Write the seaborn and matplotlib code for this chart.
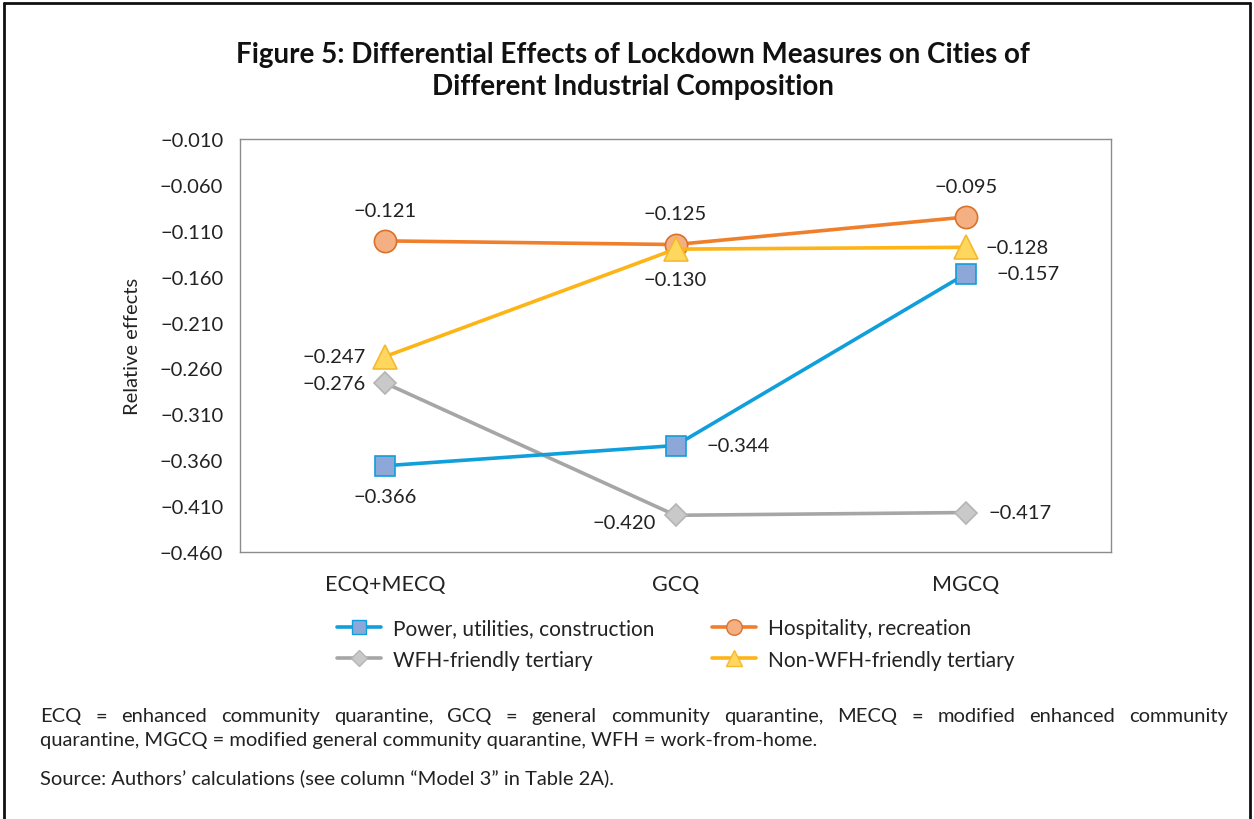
import numpy as np
import pandas as pd
import seaborn as sns
import matplotlib.pyplot as plt
from matplotlib.lines import Line2D

# data
phases = ['ECQ+MECQ', 'GCQ', 'MGCQ']
power = [-0.366, -0.344, -0.157]
hospitality = [-0.121, -0.125, -0.095]
wfh = [-0.276, -0.420, -0.417]
non_wfh = [-0.247, -0.130, -0.128]
series_names = ['Power, utilities, construction', 'Hospitality, recreation',
                'WFH-friendly tertiary', 'Non-WFH-friendly tertiary']
yticks = [-0.010, -0.060, -0.110, -0.160, -0.210, -0.260, -0.310, -0.360, -0.410, -0.460]

df = pd.DataFrame({
    'phase': phases * 4,
    'x': list(range(3)) * 4,
    'value': power + hospitality + wfh + non_wfh,
    'series': np.repeat(series_names, 3),
})

sns.set_theme(style='white')
plt.rcParams['font.family'] = ['Lato', 'DejaVu Sans']

# line colour, marker face, marker edge, marker, size
styles = {
    'Power, utilities, construction': ('#109FDA', '#8DA8D8', '#109FDA', 's', 15),
    'Hospitality, recreation': ('#F07F2C', '#F4AF82', '#D9722A', 'o', 16),
    'WFH-friendly tertiary': ('#A6A6A6', '#C9C9C9', '#B5B5B5', 'D', 11),
    'Non-WFH-friendly tertiary': ('#FDB416', '#FFD75E', '#F5B82E', '^', 17),
}

fig = plt.figure(figsize=(12.54, 8.2), dpi=100)
ax = fig.add_axes([240 / 1254, 1 - 553 / 820, 871 / 1254, 413 / 820])

for name in ['WFH-friendly tertiary', 'Power, utilities, construction',
             'Hospitality, recreation', 'Non-WFH-friendly tertiary']:
    lc, fc, ec, mk, ms = styles[name]
    sub = df[df.series == name]
    sns.lineplot(data=sub, x='x', y='value', ax=ax, color=lc, linewidth=2.6,
                 marker=mk, markersize=ms, markerfacecolor=fc,
                 markeredgecolor=ec, markeredgewidth=1.2, legend=False)


def fmt(v):
    return ('−' if v < 0 else '') + '%.3f' % abs(v)


# label offsets in points: (dx, dy, ha)
label_pos = {
    'Power, utilities, construction': [(0, -22, 'center'), (22, 0, 'left'), (22, 0, 'left')],
    'Hospitality, recreation': [(0, 22, 'center'), (0, 22, 'center'), (0, 22, 'center')],
    'WFH-friendly tertiary': [(-14, 0, 'right'), (-14, -5, 'right'), (16, 0, 'left')],
    'Non-WFH-friendly tertiary': [(-14, 0, 'right'), (0, -22, 'center'), (14, 0, 'left')],
}
for name in series_names:
    sub = df[df.series == name]
    for (xv, yv), (dx, dy, ha) in zip(zip(sub.x, sub.value), label_pos[name]):
        ax.annotate(fmt(yv), (xv, yv), xytext=(dx, dy), textcoords='offset points',
                    ha=ha, va='center', fontsize=14.5, color='#222222')

ax.set_xlim(-0.5, 2.5)
ax.set_ylim(-0.46, -0.01)
ax.set_xticks(range(3))
ax.set_xticklabels(phases, fontsize=15.5)
ax.set_yticks(yticks)
ax.set_yticklabels([fmt(v) for v in yticks], fontsize=14.5)
ax.tick_params(axis='both', colors='#222222', length=0)
ax.tick_params(axis='x', pad=16)
ax.tick_params(axis='y', pad=12)
ax.set_xlabel('')
ax.set_ylabel('Relative effects', fontsize=14.5, color='#222222', labelpad=14)
for s in ax.spines.values():
    s.set_color('#8C8C8C')
    s.set_linewidth(1)

handles = []
for name in ['Power, utilities, construction', 'WFH-friendly tertiary',
             'Hospitality, recreation', 'Non-WFH-friendly tertiary']:
    lc, fc, ec, mk, ms = styles[name]
    handles.append(Line2D([], [], color=lc, linewidth=2.6, marker=mk,
                          markersize=ms * 0.7, markerfacecolor=fc,
                          markeredgecolor=ec, label=name))
fig.legend(handles=handles, loc='center', bbox_to_anchor=(0.539, 1 - 645 / 820), ncol=2,
           frameon=False, fontsize=15, handlelength=2.1, handletextpad=0.6,
           columnspacing=2.75, labelspacing=0.55, labelcolor='#222222')

fig.text(0.505, 1 - 55 / 820, 'Figure 5: Differential Effects of Lockdown Measures on Cities of',
         ha='center', va='center', fontsize=20, fontweight='bold', color='#111111')
fig.text(0.505, 1 - 87 / 820, 'Different Industrial Composition',
         ha='center', va='center', fontsize=20, fontweight='bold', color='#111111')

notes = ['ECQ = enhanced community quarantine, GCQ = general community quarantine, MECQ = modified enhanced community',
         'quarantine, MGCQ = modified general community quarantine, WFH = work-from-home.',
         'Source: Authors\u2019 calculations (see column \u201cModel 3\u201d in Table 2A).']
note_size = 14.5

# first note line is justified between x=40 and x=1228
renderer = fig.canvas.get_renderer()
words = notes[0].split(' ')
word_texts = [fig.text(0, 1 - 717 / 820, w, ha='left', va='center', fontsize=note_size,
                       color='#222222') for w in words]
widths = [t.get_window_extent(renderer).width for t in word_texts]
gap = (1228 - 40 - sum(widths)) / (len(words) - 1)
xpos = 40
for t, w in zip(word_texts, widths):
    t.set_x(xpos / 1254)
    xpos += w + gap

for yy, t in zip([741, 778], notes[1:]):
    fig.text(40 / 1254, 1 - yy / 820, t, ha='left', va='center', fontsize=note_size, color='#222222')

# outer frame (left, top, right)
for xs, ys in [([4 / 1254, 4 / 1254], [0, 1 - 4 / 820]),
               ([4 / 1254, 1 - 4 / 1254], [1 - 4 / 820, 1 - 4 / 820]),
               ([1 - 4 / 1254, 1 - 4 / 1254], [0, 1 - 4 / 820])]:
    fig.add_artist(Line2D(xs, ys, transform=fig.transFigure, color='#111111', linewidth=2))

fig.savefig('out.png', dpi=100, facecolor='white')
